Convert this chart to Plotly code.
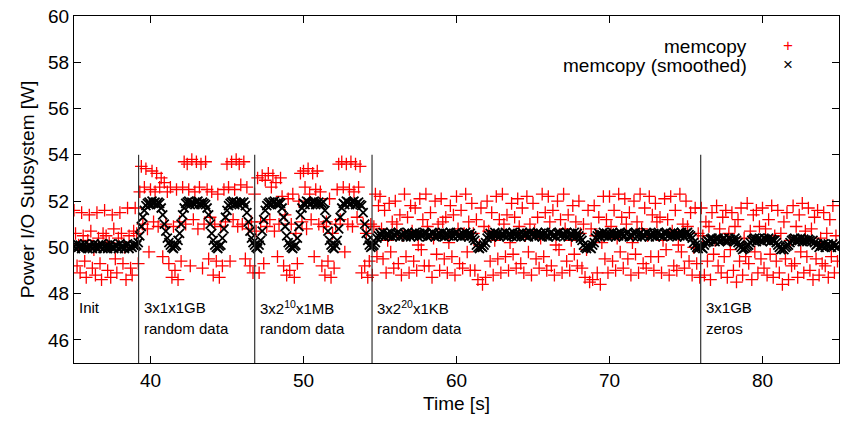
import numpy as np
import plotly.graph_objects as go

# sampling clock of the power measurement (s)
T0 = 35.0
DT = 0.1

# raw power samples [W], one row per second (35 .. 84)
memcopy = [
    51.6, 50.6, 49.2, 50.1, 48.9, 51.5, 50.5, 49.4, 48.7, 50.3,
    51.4, 50.7, 49.1, 49.9, 48.8, 51.5, 50.4, 49.3, 48.6, 50.6,
    51.6, 50.5, 49.0, 50.2, 48.7, 51.4, 50.8, 49.5, 48.9, 50.4,
    51.5, 50.6, 49.3, 50.0, 48.6, 51.7, 50.5, 49.1, 48.8, 50.7,
    51.7, 50.6, 49.3, 52.4, 53.5, 51.0, 52.6, 53.4, 50.8, 49.8,
    52.5, 53.3, 51.1, 52.4, 53.2, 50.9, 52.6, 53.0, 49.6, 52.8,
    51.0, 52.4, 49.3, 52.6, 48.7, 50.9, 49.0, 52.5, 48.6, 51.1,
    49.4, 52.6, 53.7, 51.0, 53.6, 52.5, 49.2, 53.8, 51.2, 52.4,
    53.7, 50.8, 52.6, 53.6, 49.1, 51.0, 53.7, 52.5, 49.5, 51.3,
    52.4, 48.8, 51.0, 49.4, 52.3, 48.7, 50.9, 49.2, 52.5, 51.1,
    53.6, 52.6, 49.4, 53.7, 51.2, 52.5, 53.8, 50.9, 53.6, 52.7,
    51.0, 53.7, 49.5, 52.6, 50.8, 49.2, 51.1, 48.9, 52.3, 50.7,
    53.0, 48.9, 51.1, 53.1, 49.3, 52.9, 50.9, 53.2, 51.2, 52.6,
    53.1, 50.7, 52.8, 49.6, 51.0, 53.0, 52.2, 49.2, 51.4, 48.8,
    52.1, 49.0, 51.0, 52.3, 48.7, 50.6, 49.3, 52.0, 53.2, 51.1,
    53.3, 52.6, 50.8, 53.4, 52.3, 51.2, 53.2, 49.6, 52.5, 53.3,
    51.0, 52.4, 49.2, 50.9, 48.8, 51.1, 49.4, 52.1, 48.7, 50.6,
    49.1, 51.0, 52.5, 53.6, 51.2, 53.7, 52.6, 49.8, 53.6, 51.0,
    52.5, 53.7, 50.9, 52.4, 53.6, 51.3, 52.6, 53.5, 48.9, 51.0,
    49.2, 50.6, 48.7, 49.4, 51.0, 48.8, 50.9, 52.3, 49.6, 51.8,
    52.2, 50.8, 49.5, 51.6, 48.9, 50.3, 51.9, 49.8, 51.1, 49.1,
    52.0, 51.0, 49.3, 51.4, 48.8, 50.5, 52.3, 49.6, 51.3, 48.9,
    51.8, 50.7, 49.4, 51.7, 49.0, 50.1, 52.1, 49.9, 51.2, 49.2,
    52.3, 50.9, 49.2, 51.5, 48.7, 50.4, 52.0, 49.7, 51.0, 49.0,
    52.1, 51.1, 49.5, 51.3, 48.9, 50.2, 51.8, 49.6, 51.4, 48.8,
    52.2, 50.8, 49.3, 51.6, 49.1, 50.6, 52.3, 49.8, 51.1, 49.0,
    51.9, 50.6, 49.0, 51.2, 48.6, 50.1, 51.7, 48.4, 50.9, 48.7,
    52.0, 50.7, 49.4, 51.5, 48.8, 50.3, 52.2, 49.5, 51.2, 48.9,
    52.3, 51.0, 49.6, 51.4, 49.0, 50.2, 51.9, 49.7, 51.3, 49.1,
    52.1, 50.9, 49.3, 51.7, 48.9, 50.5, 52.2, 49.8, 51.0, 48.8,
    51.9, 50.7, 49.5, 51.3, 49.1, 50.4, 52.3, 49.6, 51.5, 49.0,
    52.2, 51.1, 49.2, 51.6, 48.8, 50.1, 52.0, 49.9, 51.2, 48.9,
    52.3, 50.8, 49.4, 51.4, 49.0, 50.3, 51.8, 49.7, 51.1, 49.2,
    52.0, 50.6, 49.1, 51.0, 48.7, 49.9, 51.6, 48.5, 50.8, 48.6,
    51.8, 50.5, 48.9, 51.3, 48.4, 50.2, 52.2, 49.5, 51.2, 48.9,
    52.2, 50.9, 49.4, 51.6, 49.0, 50.4, 52.3, 49.8, 51.3, 49.1,
    52.1, 51.0, 49.5, 51.5, 48.8, 50.2, 52.0, 49.7, 51.1, 48.9,
    52.3, 50.8, 49.3, 51.7, 49.1, 50.5, 52.2, 49.6, 51.4, 49.0,
    51.9, 51.1, 49.6, 51.3, 48.9, 50.3, 52.1, 49.9, 51.2, 48.8,
    52.2, 50.7, 49.2, 51.6, 49.0, 50.1, 52.3, 49.8, 51.0, 49.1,
    52.0, 50.9, 49.4, 51.5, 48.8, 50.0, 51.7, 49.3, 50.6, 48.7,
    51.7, 50.5, 48.8, 51.1, 49.4, 50.9, 48.6, 51.5, 49.7, 50.3,
    51.8, 49.2, 50.8, 48.9, 51.3, 49.6, 51.6, 48.7, 50.6, 49.9,
    51.5, 49.0, 50.9, 48.5, 51.2, 49.4, 51.7, 48.8, 50.4, 49.6,
    51.9, 49.3, 50.7, 48.6, 51.4, 49.8, 51.6, 48.9, 50.9, 49.5,
    51.7, 49.1, 50.8, 48.8, 51.2, 49.7, 51.8, 48.7, 50.5, 49.4,
    51.6, 48.9, 50.6, 48.4, 51.1, 49.5, 51.5, 48.6, 50.3, 49.2,
    51.8, 49.3, 50.9, 48.7, 51.4, 49.8, 51.9, 48.9, 50.7, 49.6,
    51.7, 49.0, 50.8, 48.6, 51.3, 49.5, 51.6, 48.8, 50.4, 49.3,
    51.5, 49.2, 50.6, 48.7, 51.2, 49.6, 51.8, 48.9, 50.5, 49.4,
]

# smoothed power [W], same clock
memcopy_smoothed = [
    50.05, 49.95, 50.15, 50.00, 50.10, 49.95, 50.05, 50.15, 50.00, 49.95,
    50.10, 50.00, 49.95, 50.15, 50.05, 49.95, 50.10, 50.00, 50.15, 49.95,
    50.00, 50.10, 49.95, 50.05, 50.15, 50.00, 49.95, 50.10, 50.05, 49.95,
    50.15, 50.00, 50.05, 49.95, 50.10, 50.15, 49.95, 50.05, 50.00, 50.10,
    50.05, 50.10, 50.20, 50.50, 50.90, 51.30, 51.60, 51.80, 51.90, 51.95,
    51.85, 52.00, 51.90, 51.95, 51.85, 51.95, 51.90, 51.70, 51.40, 51.00,
    50.70, 50.40, 50.20, 50.10, 50.00, 49.95, 50.05, 50.10, 50.30, 50.60,
    51.00, 51.40, 51.70, 51.90, 51.95, 52.00, 51.85, 51.95, 51.90, 51.85,
    51.95, 52.00, 51.90, 51.85, 51.95, 51.90, 51.85, 51.70, 51.40, 51.00,
    50.60, 50.30, 50.10, 50.00, 49.95, 50.05, 50.10, 50.40, 50.80, 51.30,
    51.60, 51.80, 51.90, 51.95, 52.00, 51.85, 51.95, 51.90, 51.85, 51.95,
    51.90, 51.95, 51.80, 51.50, 51.10, 50.70, 50.40, 50.20, 50.10, 50.00,
    49.95, 50.10, 50.30, 50.70, 51.20, 51.60, 51.80, 51.90, 51.95, 51.85,
    51.95, 52.00, 51.90, 51.85, 51.95, 51.90, 51.70, 51.30, 50.90, 50.50,
    50.20, 50.10, 50.00, 49.95, 50.05, 50.10, 50.40, 50.90, 51.40, 51.70,
    51.90, 51.85, 52.00, 51.95, 51.85, 51.90, 51.95, 52.00, 51.85, 51.90,
    51.95, 51.85, 51.90, 51.95, 51.60, 51.20, 50.70, 50.30, 50.10, 50.00,
    49.95, 50.10, 50.30, 50.80, 51.30, 51.70, 51.90, 51.85, 52.00, 51.95,
    51.85, 51.90, 51.95, 52.00, 51.85, 51.90, 51.95, 51.85, 51.80, 51.50,
    51.00, 50.60, 50.30, 50.10, 50.00, 50.05, 50.10, 50.20, 50.40, 50.50,
    50.60, 50.50, 50.65, 50.45, 50.55, 50.60, 50.50, 50.65, 50.45, 50.55,
    50.50, 50.60, 50.65, 50.45, 50.55, 50.50, 50.60, 50.45, 50.65, 50.55,
    50.45, 50.60, 50.50, 50.65, 50.55, 50.45, 50.60, 50.50, 50.55, 50.65,
    50.60, 50.45, 50.55, 50.50, 50.65, 50.60, 50.45, 50.55, 50.50, 50.60,
    50.50, 50.65, 50.45, 50.60, 50.55, 50.50, 50.65, 50.55, 50.45, 50.60,
    50.65, 50.50, 50.55, 50.45, 50.60, 50.50, 50.65, 50.55, 50.45, 50.60,
    50.50, 50.40, 50.30, 50.10, 50.00, 49.95, 50.05, 50.00, 50.10, 50.20,
    50.40, 50.50, 50.60, 50.45, 50.55, 50.65, 50.50, 50.60, 50.45, 50.55,
    50.60, 50.50, 50.65, 50.45, 50.55, 50.60, 50.50, 50.65, 50.55, 50.45,
    50.50, 50.60, 50.45, 50.65, 50.55, 50.50, 50.60, 50.45, 50.65, 50.55,
    50.60, 50.45, 50.55, 50.65, 50.50, 50.60, 50.45, 50.55, 50.65, 50.50,
    50.45, 50.60, 50.65, 50.50, 50.55, 50.45, 50.60, 50.65, 50.50, 50.55,
    50.60, 50.50, 50.65, 50.45, 50.55, 50.60, 50.50, 50.65, 50.45, 50.60,
    50.50, 50.40, 50.30, 50.10, 50.00, 49.95, 50.05, 50.00, 49.95, 50.10,
    50.20, 50.40, 50.50, 50.60, 50.45, 50.55, 50.65, 50.50, 50.60, 50.45,
    50.60, 50.50, 50.65, 50.55, 50.45, 50.60, 50.50, 50.65, 50.55, 50.45,
    50.50, 50.60, 50.65, 50.45, 50.55, 50.50, 50.60, 50.65, 50.45, 50.55,
    50.60, 50.45, 50.55, 50.50, 50.65, 50.60, 50.45, 50.55, 50.50, 50.60,
    50.45, 50.60, 50.65, 50.50, 50.55, 50.45, 50.60, 50.65, 50.50, 50.55,
    50.60, 50.50, 50.65, 50.55, 50.45, 50.60, 50.50, 50.65, 50.55, 50.45,
    50.60, 50.65, 50.55, 50.50, 50.40, 50.20, 50.10, 50.00, 49.95, 50.05,
    50.00, 49.95, 50.10, 50.20, 50.30, 50.25, 50.35, 50.40, 50.30, 50.25,
    50.35, 50.40, 50.25, 50.30, 50.35, 50.40, 50.30, 50.25, 50.40, 50.35,
    50.30, 50.25, 50.40, 50.30, 50.20, 50.10, 50.00, 49.90, 49.95, 50.00,
    50.05, 50.10, 50.20, 50.30, 50.35, 50.40, 50.25, 50.35, 50.40, 50.30,
    50.25, 50.40, 50.35, 50.30, 50.40, 50.25, 50.35, 50.30, 50.30, 50.20,
    50.10, 50.00, 49.90, 49.95, 49.90, 50.00, 50.05, 50.10, 50.20, 50.30,
    50.35, 50.40, 50.25, 50.35, 50.30, 50.40, 50.25, 50.35, 50.30, 50.25,
    50.35, 50.30, 50.25, 50.30, 50.20, 50.10, 50.15, 50.00, 50.10, 50.05,
    50.15, 50.00, 50.10, 50.15, 50.05, 50.00, 50.15, 50.05, 50.10, 50.00,
]

# benchmark phases: start time and two label lines
phase_starts = [35.0, 39.22, 46.81, 54.48, 75.96]
phase_line1 = ["Init", "3x1x1GB", "3x2<sup>10</sup>x1MB", "3x2<sup>20</sup>x1KB", "3x1GB"]
phase_line2 = ["", "random data", "random data", "random data", "zeros"]

time = T0 + DT * np.arange(len(memcopy))
time_s = T0 + DT * np.arange(len(memcopy_smoothed))

FONT = "Liberation Sans, Arial, Helvetica, sans-serif"

fig = go.Figure()

fig.add_trace(go.Scatter(
    x=time, y=memcopy, mode="markers", name="memcopy",
    marker=dict(symbol="cross-thin", size=9, color="red",
                line=dict(color="red", width=1.3)),
))
fig.add_trace(go.Scatter(
    x=time_s, y=memcopy_smoothed, mode="markers", name="memcopy (smoothed)",
    marker=dict(symbol="x-thin", size=9, color="black",
                line=dict(color="black", width=1.8)),
))

# phase separators and labels
for i, xs in enumerate(phase_starts):
    if i > 0:
        fig.add_shape(type="line", x0=xs, x1=xs, y0=45, y1=54, xref="x", yref="y",
                      line=dict(color="#333333", width=1.2))
    fig.add_annotation(x=xs, y=47.42, text=phase_line1[i], showarrow=False,
                       xanchor="left", xshift=3, font=dict(size=15, family=FONT, color="black"))
    if phase_line2[i]:
        fig.add_annotation(x=xs, y=46.47, text=phase_line2[i], showarrow=False,
                           xanchor="left", xshift=3, font=dict(size=15, family=FONT, color="black"))

# legend in gnuplot style: text right-aligned, symbol on the right
legend_items = [("memcopy", "+", "red"), ("memcopy (smoothed)", "×", "black")]
for k, (label, sym, col) in enumerate(legend_items):
    ypx = 34 + 19 * k
    yp = 1 - (ypx - 16) / 347
    fig.add_annotation(x=(749 - 74) / 765, y=yp, xref="paper", yref="paper",
                       text=label, showarrow=False, xanchor="right",
                       font=dict(size=19, family=FONT, color="black"))
    fig.add_annotation(x=(788 - 74) / 765, y=yp, xref="paper", yref="paper",
                       text=sym, showarrow=False, xanchor="center",
                       font=dict(size=17, family=FONT, color=col))

axis_common = dict(
    showline=True, linecolor="black", linewidth=1.3, mirror="ticks",
    ticks="inside", ticklen=7, tickcolor="black", tickwidth=1,
    showgrid=False, zeroline=False, automargin=False,
    tickfont=dict(size=19, family=FONT, color="black"),
)

fig.update_xaxes(range=[35, 85], tickvals=[40, 50, 60, 70, 80],
                 title=dict(text="Time [s]", font=dict(size=19, family=FONT, color="black"),
                            standoff=6),
                 **axis_common)
fig.update_yaxes(range=[45, 60], tickvals=[46, 48, 50, 52, 54, 56, 58, 60],
                 title=dict(text="Power I/O Subsystem [W]",
                            font=dict(size=19, family=FONT, color="black"), standoff=8),
                 **axis_common)

fig.update_layout(
    width=842, height=423,
    margin=dict(l=74, r=3, t=16, b=60),
    plot_bgcolor="white", paper_bgcolor="white",
    showlegend=False,
    font=dict(family=FONT, color="black"),
)

# drop the browser's default page margin so the figure sits at (0, 0)
fig.write_html("out.html", config={"displayModeBar": False},
               post_script="document.body.style.margin = '0';")
